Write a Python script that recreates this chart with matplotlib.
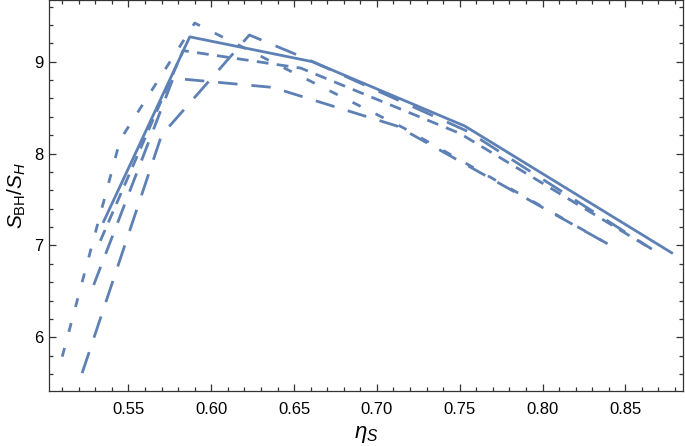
import matplotlib
matplotlib.use("Agg")
import matplotlib.pyplot as plt
from matplotlib.ticker import MultipleLocator

# values
eta_solid = [0.535, 0.587, 0.661, 0.753, 0.878]
ratio_solid = [7.26, 9.27, 9.00, 8.30, 6.92]

eta_short = [0.510, 0.545, 0.590, 0.716, 0.841]
ratio_short = [5.79, 8.15, 9.42, 8.28, 7.00]

eta_medium = [0.533, 0.583, 0.654, 0.750, 0.866]
ratio_medium = [7.05, 9.12, 8.93, 8.22, 6.96]

eta_long = [0.529, 0.577, 0.637, 0.712, 0.841]
ratio_long = [6.57, 8.82, 8.72, 8.30, 7.00]

eta_longest = [0.522, 0.570, 0.623, 0.655, 0.755, 0.866]
ratio_longest = [5.61, 8.20, 9.29, 9.05, 8.24, 6.96]

plt.rcParams['font.family'] = ['Liberation Sans', 'DejaVu Sans']
plt.rcParams['mathtext.fontset'] = 'custom'
plt.rcParams['mathtext.rm'] = 'Liberation Sans'
plt.rcParams['mathtext.it'] = 'Liberation Sans:italic'
plt.rcParams['lines.scale_dashes'] = False

col = '#5e81b5'
lw = 2.0

fig = plt.figure(figsize=(6.85, 4.46), dpi=100)
ax = fig.add_axes([0.0715, 0.1233, 0.9255, 0.8757])

ax.plot(eta_solid, ratio_solid, c=col, lw=lw, solid_joinstyle='round')
ax.plot(eta_short, ratio_short, c=col, lw=lw, ls=(0, (6.5, 12)))
ax.plot(eta_medium, ratio_medium, c=col, lw=lw, ls=(0, (8.5, 6)))
ax.plot(eta_long, ratio_long, c=col, lw=lw, ls=(0, (14, 10)))
ax.plot(eta_longest, ratio_longest, c=col, lw=lw, ls=(0, (16, 11)))

ax.set_xlim(0.502, 0.8848)
ax.set_ylim(5.416, 9.666)
ax.xaxis.set_major_locator(MultipleLocator(0.05))
ax.xaxis.set_minor_locator(MultipleLocator(0.01))
ax.yaxis.set_major_locator(MultipleLocator(1))
ax.yaxis.set_minor_locator(MultipleLocator(0.2))
ax.xaxis.set_major_formatter(plt.FuncFormatter(lambda v, p: "{:.2f}".format(v)))

ax.tick_params(which='both', direction='in', top=True, right=True, width=0.9, color='#333333')
ax.tick_params(which='major', length=5, labelsize=12)
ax.tick_params(axis='x', which='major', pad=8)
ax.tick_params(axis='y', which='major', pad=4)
ax.tick_params(which='minor', length=2.8)
for s in ax.spines.values():
    s.set_linewidth(0.9)
    s.set_color('#333333')

ax.set_xlabel(r'$\eta_S$', fontsize=16, labelpad=5)
ax.set_ylabel(r'$S_{\mathrm{BH}}/S_H$', fontsize=15, labelpad=4)

fig.savefig('out.png', dpi=100)
